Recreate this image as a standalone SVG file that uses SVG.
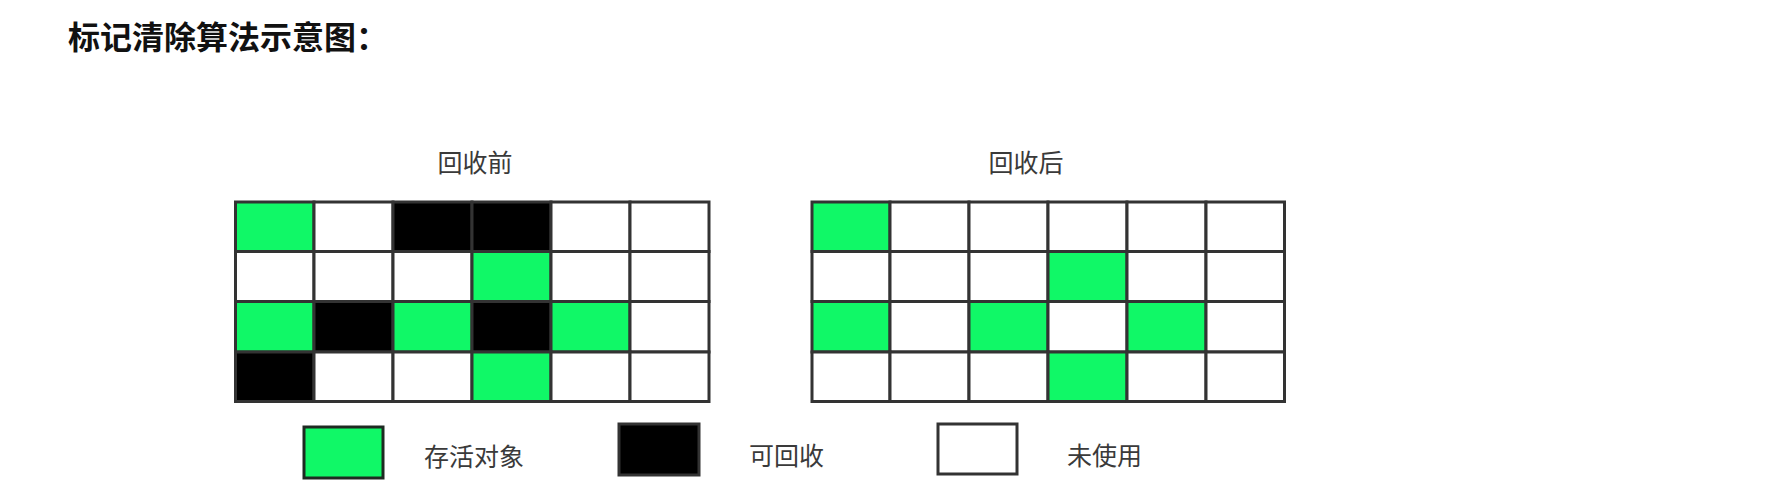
<svg xmlns="http://www.w3.org/2000/svg" width="1778" height="504" viewBox="0 0 1778 504">
<style>
.bg{fill:#ffffff}
.title{font-family:"Noto Sans CJK SC","Noto Sans",sans-serif;font-size:32px;font-weight:700;fill:#111111}
.lbl{font-family:"Noto Sans CJK SC","Noto Sans",sans-serif;font-size:25px;font-weight:400;fill:#3a3a3a}
.c{stroke:#333333;stroke-width:3}
.g{fill:#10f867}
.b{fill:#000000}
.w{fill:#ffffff}
</style>
<rect class="bg" x="0" y="0" width="1778" height="504"/>
<text class="title" x="68" y="49">标记清除算法示意图：</text>

<g id="before">
<text class="lbl" x="475" y="172" text-anchor="middle">回收前</text>
<!-- row 0 -->
<rect class="c g" x="235.5" y="202" width="78.5" height="49.5"/>
<rect class="c w" x="314" y="202" width="79" height="49.5"/>
<rect class="c b" x="393" y="202" width="79" height="49.5"/>
<rect class="c b" x="472" y="202" width="79" height="49.5"/>
<rect class="c w" x="551" y="202" width="79" height="49.5"/>
<rect class="c w" x="630" y="202" width="79" height="49.5"/>
<!-- row 1 -->
<rect class="c w" x="235.5" y="251.5" width="78.5" height="50"/>
<rect class="c w" x="314" y="251.5" width="79" height="50"/>
<rect class="c w" x="393" y="251.5" width="79" height="50"/>
<rect class="c g" x="472" y="251.5" width="79" height="50"/>
<rect class="c w" x="551" y="251.5" width="79" height="50"/>
<rect class="c w" x="630" y="251.5" width="79" height="50"/>
<!-- row 2 -->
<rect class="c g" x="235.5" y="301.5" width="78.5" height="50.5"/>
<rect class="c b" x="314" y="301.5" width="79" height="50.5"/>
<rect class="c g" x="393" y="301.5" width="79" height="50.5"/>
<rect class="c b" x="472" y="301.5" width="79" height="50.5"/>
<rect class="c g" x="551" y="301.5" width="79" height="50.5"/>
<rect class="c w" x="630" y="301.5" width="79" height="50.5"/>
<!-- row 3 -->
<rect class="c b" x="235.5" y="352" width="78.5" height="49.5"/>
<rect class="c w" x="314" y="352" width="79" height="49.5"/>
<rect class="c w" x="393" y="352" width="79" height="49.5"/>
<rect class="c g" x="472" y="352" width="79" height="49.5"/>
<rect class="c w" x="551" y="352" width="79" height="49.5"/>
<rect class="c w" x="630" y="352" width="79" height="49.5"/>
</g>

<g id="after">
<text class="lbl" x="1026" y="172" text-anchor="middle">回收后</text>
<!-- row 0 -->
<rect class="c g" x="812" y="202" width="78" height="49.5"/>
<rect class="c w" x="890" y="202" width="79" height="49.5"/>
<rect class="c w" x="969" y="202" width="79" height="49.5"/>
<rect class="c w" x="1048" y="202" width="79" height="49.5"/>
<rect class="c w" x="1127" y="202" width="79" height="49.5"/>
<rect class="c w" x="1206" y="202" width="78.5" height="49.5"/>
<!-- row 1 -->
<rect class="c w" x="812" y="251.5" width="78" height="50"/>
<rect class="c w" x="890" y="251.5" width="79" height="50"/>
<rect class="c w" x="969" y="251.5" width="79" height="50"/>
<rect class="c g" x="1048" y="251.5" width="79" height="50"/>
<rect class="c w" x="1127" y="251.5" width="79" height="50"/>
<rect class="c w" x="1206" y="251.5" width="78.5" height="50"/>
<!-- row 2 -->
<rect class="c g" x="812" y="301.5" width="78" height="50.5"/>
<rect class="c w" x="890" y="301.5" width="79" height="50.5"/>
<rect class="c g" x="969" y="301.5" width="79" height="50.5"/>
<rect class="c w" x="1048" y="301.5" width="79" height="50.5"/>
<rect class="c g" x="1127" y="301.5" width="79" height="50.5"/>
<rect class="c w" x="1206" y="301.5" width="78.5" height="50.5"/>
<!-- row 3 -->
<rect class="c w" x="812" y="352" width="78" height="49.5"/>
<rect class="c w" x="890" y="352" width="79" height="49.5"/>
<rect class="c w" x="969" y="352" width="79" height="49.5"/>
<rect class="c g" x="1048" y="352" width="79" height="49.5"/>
<rect class="c w" x="1127" y="352" width="79" height="49.5"/>
<rect class="c w" x="1206" y="352" width="78.5" height="49.5"/>
</g>

<g id="legend-live">
<rect x="304" y="427" width="79" height="51" class="g" stroke="#1e2a22" stroke-width="3"/>
<text class="lbl" x="424" y="466">存活对象</text>
</g>
<g id="legend-garbage">
<rect x="619" y="424" width="80" height="51" class="b" stroke="#333333" stroke-width="3"/>
<text class="lbl" x="749" y="465">可回收</text>
</g>
<g id="legend-free">
<rect x="938" y="424" width="79" height="50" class="w" stroke="#333333" stroke-width="3"/>
<text class="lbl" x="1067" y="465">未使用</text>
</g>
<g id="connectors"/>
</svg>
